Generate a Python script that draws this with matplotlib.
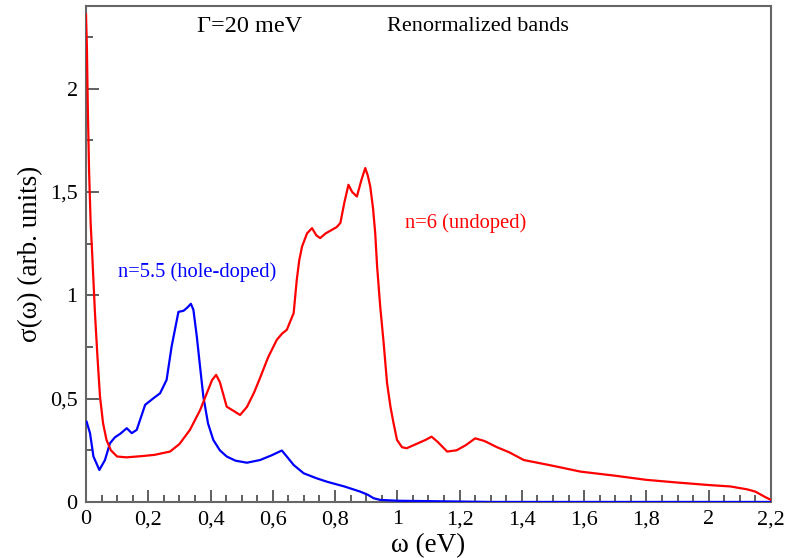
import matplotlib
matplotlib.use("Agg")
import matplotlib.pyplot as plt
from matplotlib.ticker import MultipleLocator, FuncFormatter

# Optical conductivity, renormalized bands, Gamma = 20 meV
omega_undoped = [0, 0.003, 0.006, 0.01, 0.015, 0.02, 0.029, 0.037, 0.045, 0.055,
                 0.066, 0.08, 0.1, 0.13, 0.18, 0.22, 0.27, 0.30, 0.334, 0.367,
                 0.388, 0.405, 0.418, 0.43, 0.452, 0.475, 0.495, 0.517, 0.54, 0.559,
                 0.585, 0.613, 0.63, 0.645, 0.667, 0.677, 0.685, 0.694, 0.71, 0.726,
                 0.74, 0.752, 0.77, 0.79, 0.805, 0.817, 0.83, 0.843, 0.855, 0.870,
                 0.885, 0.897, 0.905, 0.913, 0.922, 0.929, 0.935, 0.945, 0.956, 0.967,
                 0.978, 0.988, 0.999, 1.015, 1.03, 1.06, 1.09, 1.11, 1.13, 1.16,
                 1.19, 1.22, 1.25, 1.28, 1.32, 1.36, 1.406, 1.5, 1.588, 1.7,
                 1.80, 1.9, 2.0, 2.07, 2.124, 2.15, 2.18, 2.2]
sigma_undoped = [2.36, 2.2, 1.9, 1.6, 1.35, 1.2, 0.91, 0.70, 0.51, 0.38,
                 0.30, 0.25, 0.22, 0.216, 0.222, 0.228, 0.244, 0.28, 0.349, 0.446,
                 0.526, 0.59, 0.615, 0.58, 0.461, 0.44, 0.421, 0.46, 0.53, 0.60,
                 0.70, 0.785, 0.815, 0.833, 0.914, 1.075, 1.17, 1.236, 1.30, 1.325,
                 1.29, 1.277, 1.30, 1.317, 1.33, 1.35, 1.45, 1.535, 1.50, 1.478,
                 1.56, 1.616, 1.58, 1.527, 1.42, 1.30, 1.14, 0.946, 0.77, 0.575,
                 0.46, 0.38, 0.30, 0.265, 0.26, 0.28, 0.30, 0.316, 0.29, 0.244,
                 0.25, 0.275, 0.308, 0.295, 0.265, 0.24, 0.203, 0.175, 0.147, 0.127,
                 0.107, 0.094, 0.082, 0.075, 0.061, 0.05, 0.025, 0.01]

omega_doped = [0, 0.002, 0.013, 0.024, 0.043, 0.061, 0.077, 0.093, 0.11, 0.131,
               0.147, 0.163, 0.19, 0.215, 0.238, 0.259, 0.275, 0.297, 0.313, 0.325,
               0.337, 0.345, 0.356, 0.366, 0.377, 0.392, 0.409, 0.43, 0.452, 0.48,
               0.517, 0.559, 0.595, 0.629, 0.645, 0.667, 0.699, 0.74, 0.774, 0.83,
               0.881, 0.905, 0.924, 0.945, 1.0, 1.15, 1.3, 2.2]
sigma_doped = [0.39, 0.389, 0.333, 0.22, 0.155, 0.203, 0.284, 0.313, 0.33, 0.357,
               0.333, 0.349, 0.47, 0.50, 0.526, 0.591, 0.752, 0.92, 0.925, 0.94,
               0.959, 0.93, 0.80, 0.66, 0.51, 0.38, 0.30, 0.25, 0.22, 0.20,
               0.19, 0.203, 0.225, 0.249, 0.22, 0.179, 0.139, 0.115, 0.098, 0.075,
               0.05, 0.035, 0.018, 0.01, 0.006, 0.003, 0.0, 0.0]

plt.rcParams["font.family"] = ["Liberation Serif", "DejaVu Serif"]

fig = plt.figure(figsize=(7.88, 5.58), dpi=100)
ax = fig.add_axes([0.1091, 0.1004, 0.8693, 0.8888])

ax.plot(omega_doped, sigma_doped, color="#0000ff", lw=1.6, zorder=3)
ax.plot(omega_undoped, sigma_undoped, color="#ff0000", lw=1.6, zorder=4)

ax.set_xlim(0, 2.2)
ax.set_ylim(0, 2.4)

ax.xaxis.set_major_locator(MultipleLocator(0.2))
ax.xaxis.set_minor_locator(MultipleLocator(0.05))
ax.yaxis.set_major_locator(MultipleLocator(0.5))
ax.yaxis.set_minor_locator(MultipleLocator(0.25))


def comma_fmt(v, pos):
    s = f"{v:.2f}".rstrip("0").rstrip(".")
    return s.replace(".", ",")


ax.xaxis.set_major_formatter(FuncFormatter(comma_fmt))
ax.yaxis.set_major_formatter(FuncFormatter(comma_fmt))

ax.tick_params(which="both", direction="in", top=False, right=False,
               color="#444444", width=1.2)
ax.tick_params(which="major", length=9, labelsize=16, pad=6)
ax.tick_params(which="minor", length=5)

for sp in ax.spines.values():
    sp.set_color("#666666")
    sp.set_linewidth(1.5)

ax.set_xlabel("ω (eV)", fontsize=19.5, labelpad=3)
ax.set_ylabel("σ(ω) (arb. units)", fontsize=19.5, labelpad=5)

ax.text(0.527, 2.30, "Γ=20 meV", fontsize=17.5, ha="center", va="center")
ax.text(1.259, 2.30, "Renormalized bands", fontsize=16, ha="center", va="center")
ax.text(0.103, 1.114, "n=5.5 (hole-doped)", fontsize=14.8, color="#0000ff",
        ha="left", va="center")
ax.text(1.026, 1.351, "n=6 (undoped)", fontsize=14.8, color="#ff0000",
        ha="left", va="center")

fig.savefig("out.png", dpi=100)
